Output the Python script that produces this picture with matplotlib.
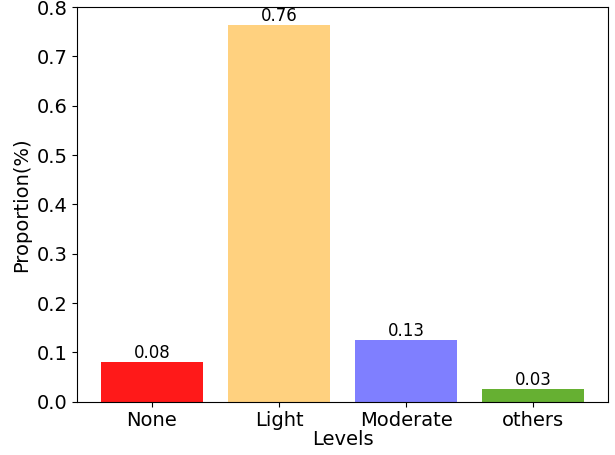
import matplotlib
matplotlib.use("Agg")
from matplotlib import pyplot as plt

levels = ["None", "Light", "Moderate", "others"]
proportions = [0.080, 0.764, 0.126, 0.026]
colours = [(1.0, 0.0, 0.0, 0.9), (1.0, 0.647, 0.0, 0.5), (0.0, 0.0, 1.0, 0.5), "#66b032"]

fig, ax = plt.subplots(figsize=(6.15, 4.55), dpi=100)
fig.subplots_adjust(left=0.1252, right=0.9886, top=0.9846, bottom=0.1172)

bars = ax.bar(levels, proportions, color=colours, width=0.8)
ax.bar_label(bars, labels=[f"{p:.2f}" for p in proportions], fontsize=12, padding=0)

ax.set_ylim(0, 0.8)
ax.set_xlabel("Levels", fontsize=14, labelpad=0)
ax.set_ylabel("Proportion(%)", fontsize=14)
ax.tick_params(labelsize=14)

fig.savefig("out.png", dpi=100)
